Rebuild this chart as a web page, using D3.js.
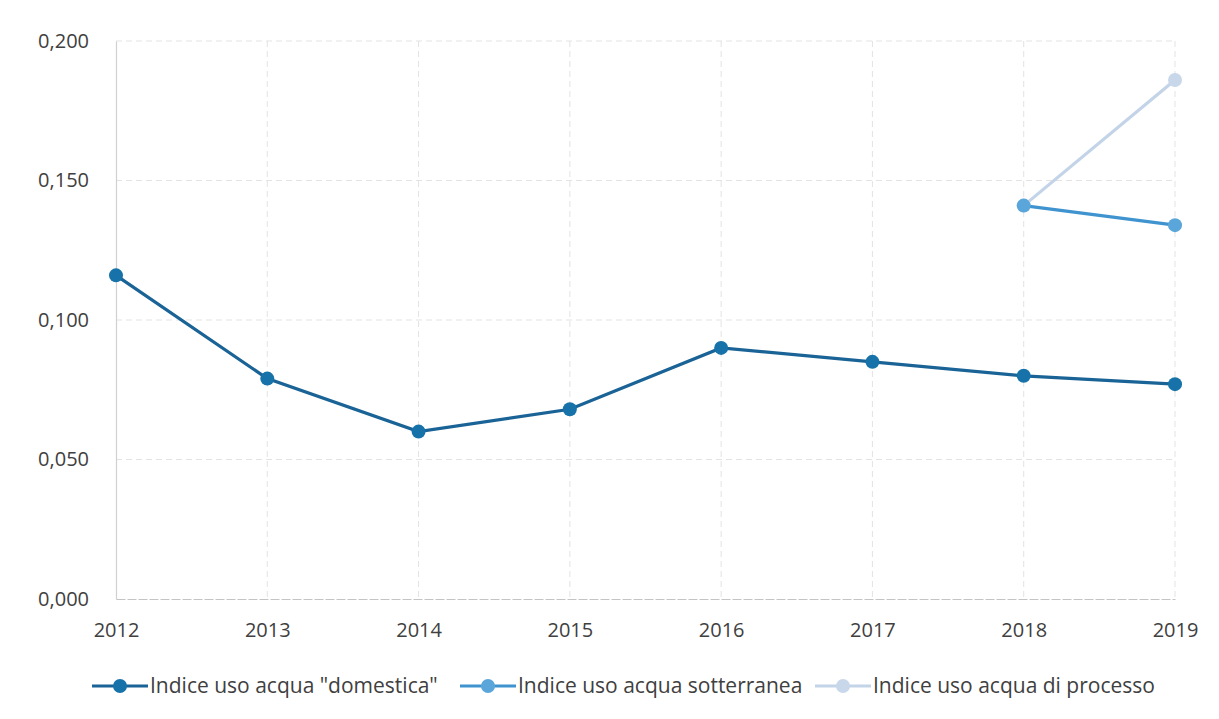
<!DOCTYPE html>
<html>
<head>
<meta charset="utf-8">
<script src="https://cdn.jsdelivr.net/npm/d3@7"></script>
<style>
  html, body { margin: 0; padding: 0; background: #fff; }
  svg { display: block; }
  text { font-family: "Open Sans", sans-serif; fill: #404040; }
</style>
</head>
<body>
<svg id="chart" width="1219" height="719"></svg>
<script>
const years = ["2012", "2013", "2014", "2015", "2016", "2017", "2018", "2019"];
const domestica = [0.116, 0.079, 0.060, 0.068, 0.090, 0.085, 0.080, 0.077];
const sotterranea = [null, null, null, null, null, null, 0.141, 0.134];
const processo = [null, null, null, null, null, null, 0.141, 0.186];
const yTicks = [0, 0.05, 0.1, 0.15, 0.2];
const seriesNames = ['Indice uso acqua "domestica"', 'Indice uso acqua sotterranea', 'Indice uso acqua di processo'];

const series = [
  { name: seriesNames[0], values: domestica, color: "#1672a8", stroke: "#1a6396" },
  { name: seriesNames[1], values: sotterranea, color: "#5aa6db", stroke: "#3f93cf" },
  { name: seriesNames[2], values: processo, color: "#c9d7ea", stroke: "#c3d3e8" }
];

const svg = d3.select("#chart");
const margin = { left: 116, right: 44, top: 41, bottom: 120 };
const W = 1219, H = 719;

const x = d3.scalePoint().domain(years).range([margin.left, W - margin.right]);
const y = d3.scaleLinear().domain([0, 0.2]).range([H - margin.bottom, margin.top]);

const it = d3.formatLocale({ decimal: ",", thousands: ".", grouping: [3], currency: ["€", ""] });
const fmt = it.format(".3f");

// grid
const g = svg.append("g");
g.selectAll(".hgrid").data(yTicks.filter(d => d > 0)).join("line")
  .attr("x1", margin.left).attr("x2", W - margin.right)
  .attr("y1", d => y(d)).attr("y2", d => y(d))
  .attr("stroke", "#e3e3e3").attr("stroke-width", 1).attr("stroke-dasharray", "6,4");
g.selectAll(".vgrid").data(years.slice(1)).join("line")
  .attr("x1", d => x(d)).attr("x2", d => x(d))
  .attr("y1", margin.top).attr("y2", y(0))
  .attr("stroke", "#e3e3e3").attr("stroke-width", 1).attr("stroke-dasharray", "6,4");

// axes
const yAxis = d3.axisLeft(y).tickValues(yTicks).tickFormat(fmt).tickSize(0).tickPadding(27);
const ya = svg.append("g").attr("transform", `translate(${margin.left},0)`).call(yAxis);
ya.select(".domain").attr("stroke", "#d0d0d0").attr("stroke-width", 1.2);
ya.selectAll("text").style("font-size", "20px").attr("fill", "#404040");

const xAxis = d3.axisBottom(x).tickSize(0).tickPadding(24);
const xa = svg.append("g").attr("transform", `translate(0,${y(0)})`).call(xAxis);
xa.select(".domain").attr("stroke", "#c4c4c4").attr("stroke-width", 1.2).attr("stroke-dasharray", "9,2");
xa.selectAll("text").style("font-size", "20px").attr("fill", "#404040");

// lines
const line = d3.line().defined(d => d.v != null).x(d => x(d.year)).y(d => y(d.v));
series.slice().reverse().forEach(s => {
  const pts = years.map((yr, i) => ({ year: yr, v: s.values[i] }));
  svg.append("path").datum(pts)
    .attr("d", line).attr("fill", "none")
    .attr("stroke", s.stroke).attr("stroke-width", 3.2);
  svg.append("g").selectAll("circle").data(pts.filter(d => d.v != null)).join("circle")
    .attr("cx", d => x(d.year)).attr("cy", d => y(d.v)).attr("r", 7)
    .attr("fill", s.color);
});

// legend
const legendX = [92, 460, 815];
const ly = 686;
const lg = svg.append("g");
series.forEach((s, i) => {
  const gx = legendX[i];
  lg.append("line").attr("x1", gx).attr("x2", gx + 56).attr("y1", ly).attr("y2", ly)
    .attr("stroke", s.stroke).attr("stroke-width", 3);
  lg.append("circle").attr("cx", gx + 28).attr("cy", ly).attr("r", 7).attr("fill", s.color);
  lg.append("text").attr("x", gx + 58).attr("y", ly).attr("dy", "0.35em")
    .style("font-size", "21px").text(s.name);
});
</script>
</body>
</html>
